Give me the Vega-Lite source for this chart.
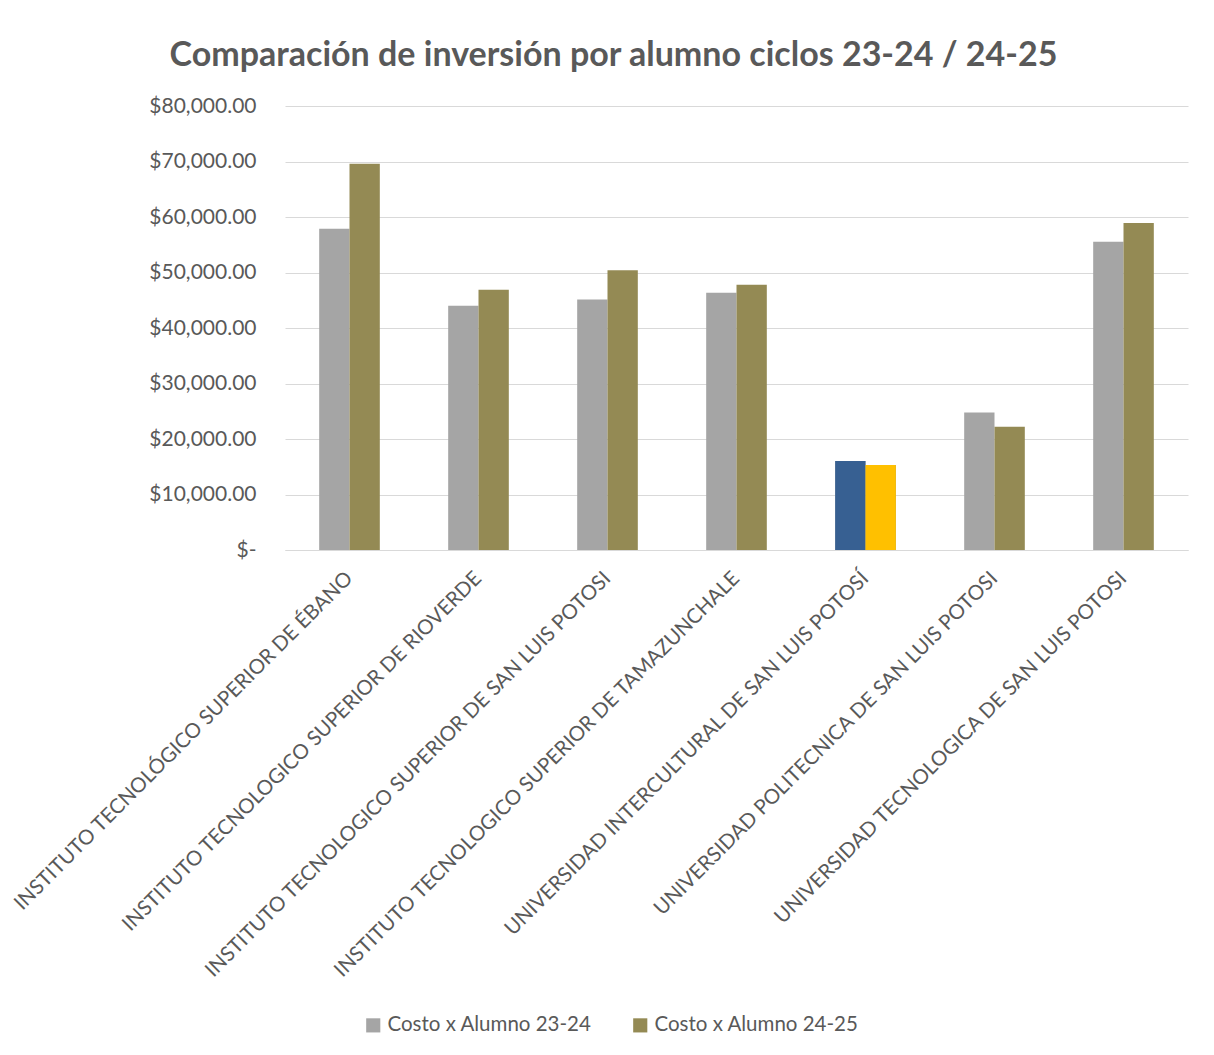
{
  "$schema": "https://vega.github.io/schema/vega-lite/v6.json",
  "width": 903,
  "height": 444,
  "autosize": {"type": "none"},
  "padding": {"left": 285, "top": 106, "right": 26, "bottom": 505},
  "background": "white",
  "config": {
    "view": {"stroke": null},
    "font": "Lato",
    "axis": {"labelColor": "#595959", "labelFont": "Lato"}
  },
  "title": {
    "text": "Comparación de inversión por alumno ciclos 23-24 / 24-25",
    "fontSize": 34,
    "font": "Lato",
    "fontWeight": "bold",
    "color": "#595959",
    "anchor": "middle",
    "frame": "group",
    "dx": -123,
    "offset": 22
  },
  "data": {
    "values": [
      {"institucion": "INSTITUTO TECNOLÓGICO SUPERIOR DE ÉBANO", "serie": "Costo x Alumno 23-24", "costo": 57870},
      {"institucion": "INSTITUTO TECNOLÓGICO SUPERIOR DE ÉBANO", "serie": "Costo x Alumno 24-25", "costo": 69590},
      {"institucion": "INSTITUTO TECNOLOGICO SUPERIOR DE RIOVERDE", "serie": "Costo x Alumno 23-24", "costo": 43990},
      {"institucion": "INSTITUTO TECNOLOGICO SUPERIOR DE RIOVERDE", "serie": "Costo x Alumno 24-25", "costo": 46870},
      {"institucion": "INSTITUTO TECNOLOGICO SUPERIOR DE SAN LUIS POTOSI", "serie": "Costo x Alumno 23-24", "costo": 45130},
      {"institucion": "INSTITUTO TECNOLOGICO SUPERIOR DE SAN LUIS POTOSI", "serie": "Costo x Alumno 24-25", "costo": 50420},
      {"institucion": "INSTITUTO TECNOLOGICO SUPERIOR DE TAMAZUNCHALE", "serie": "Costo x Alumno 23-24", "costo": 46330},
      {"institucion": "INSTITUTO TECNOLOGICO SUPERIOR DE TAMAZUNCHALE", "serie": "Costo x Alumno 24-25", "costo": 47780},
      {"institucion": "UNIVERSIDAD INTERCULTURAL DE SAN LUIS POTOSÍ", "serie": "Costo x Alumno 23-24", "costo": 16020},
      {"institucion": "UNIVERSIDAD INTERCULTURAL DE SAN LUIS POTOSÍ", "serie": "Costo x Alumno 24-25", "costo": 15300},
      {"institucion": "UNIVERSIDAD POLITECNICA DE SAN LUIS POTOSI", "serie": "Costo x Alumno 23-24", "costo": 24780},
      {"institucion": "UNIVERSIDAD POLITECNICA DE SAN LUIS POTOSI", "serie": "Costo x Alumno 24-25", "costo": 22200},
      {"institucion": "UNIVERSIDAD TECNOLOGICA DE SAN LUIS POTOSI", "serie": "Costo x Alumno 23-24", "costo": 55550},
      {"institucion": "UNIVERSIDAD TECNOLOGICA DE SAN LUIS POTOSI", "serie": "Costo x Alumno 24-25", "costo": 58910}
    ]
  },
  "encoding": {
    "x": {
      "field": "institucion",
      "type": "nominal",
      "sort": null,
      "scale": {"paddingInner": 0.53, "paddingOuter": 0.265},
      "axis": {
        "title": null,
        "labelAngle": -45,
        "labelAlign": "right",
        "labelBaseline": "middle",
        "labelFontSize": 20.5,
        "labelLimit": 0,
        "labelPadding": 25,
        "ticks": false,
        "domain": true,
        "domainColor": "#d9d9d9",
        "grid": false
      }
    },
    "xOffset": {
      "field": "serie",
      "type": "nominal",
      "scale": {"domain": ["Costo x Alumno 23-24", "Costo x Alumno 24-25"], "paddingInner": 0}
    },
    "y": {
      "field": "costo",
      "type": "quantitative",
      "scale": {"domain": [0, 80000]},
      "axis": {
        "title": null,
        "values": [0, 10000, 20000, 30000, 40000, 50000, 60000, 70000, 80000],
        "labelExpr": "datum.value == 0 ? '$-     ' : format(datum.value, '$,.2f')",
        "labelFontSize": 21,
        "labelPadding": 29,
        "ticks": false,
        "domain": false,
        "grid": true,
        "gridColor": "#d9d9d9",
        "gridWidth": 1.2
      }
    }
  },
  "layer": [
    {
      "mark": {"type": "bar"},
      "encoding": {
        "color": {
          "field": "serie",
          "type": "nominal",
          "scale": {"domain": ["Costo x Alumno 23-24", "Costo x Alumno 24-25"], "range": ["#A5A5A5", "#948A54"]},
          "legend": {
            "title": null,
            "orient": "none",
            "direction": "horizontal",
            "legendX": 78,
            "legendY": 909,
            "symbolType": "square",
            "symbolSize": 200,
            "symbolStrokeWidth": 0,
            "labelFontSize": 20.5,
            "labelColor": "#595959",
            "labelFont": "Lato",
            "columnPadding": 38,
            "labelOffset": 4,
            "labelLimit": 0
          }
        }
      }
    },
    {
      "transform": [{"filter": "datum.institucion == 'UNIVERSIDAD INTERCULTURAL DE SAN LUIS POTOSÍ'"}],
      "mark": {"type": "bar"},
      "encoding": {
        "color": {
          "condition": {"test": "datum.serie == 'Costo x Alumno 23-24'", "value": "#376092"},
          "value": "#FFC000"
        }
      }
    }
  ]
}
